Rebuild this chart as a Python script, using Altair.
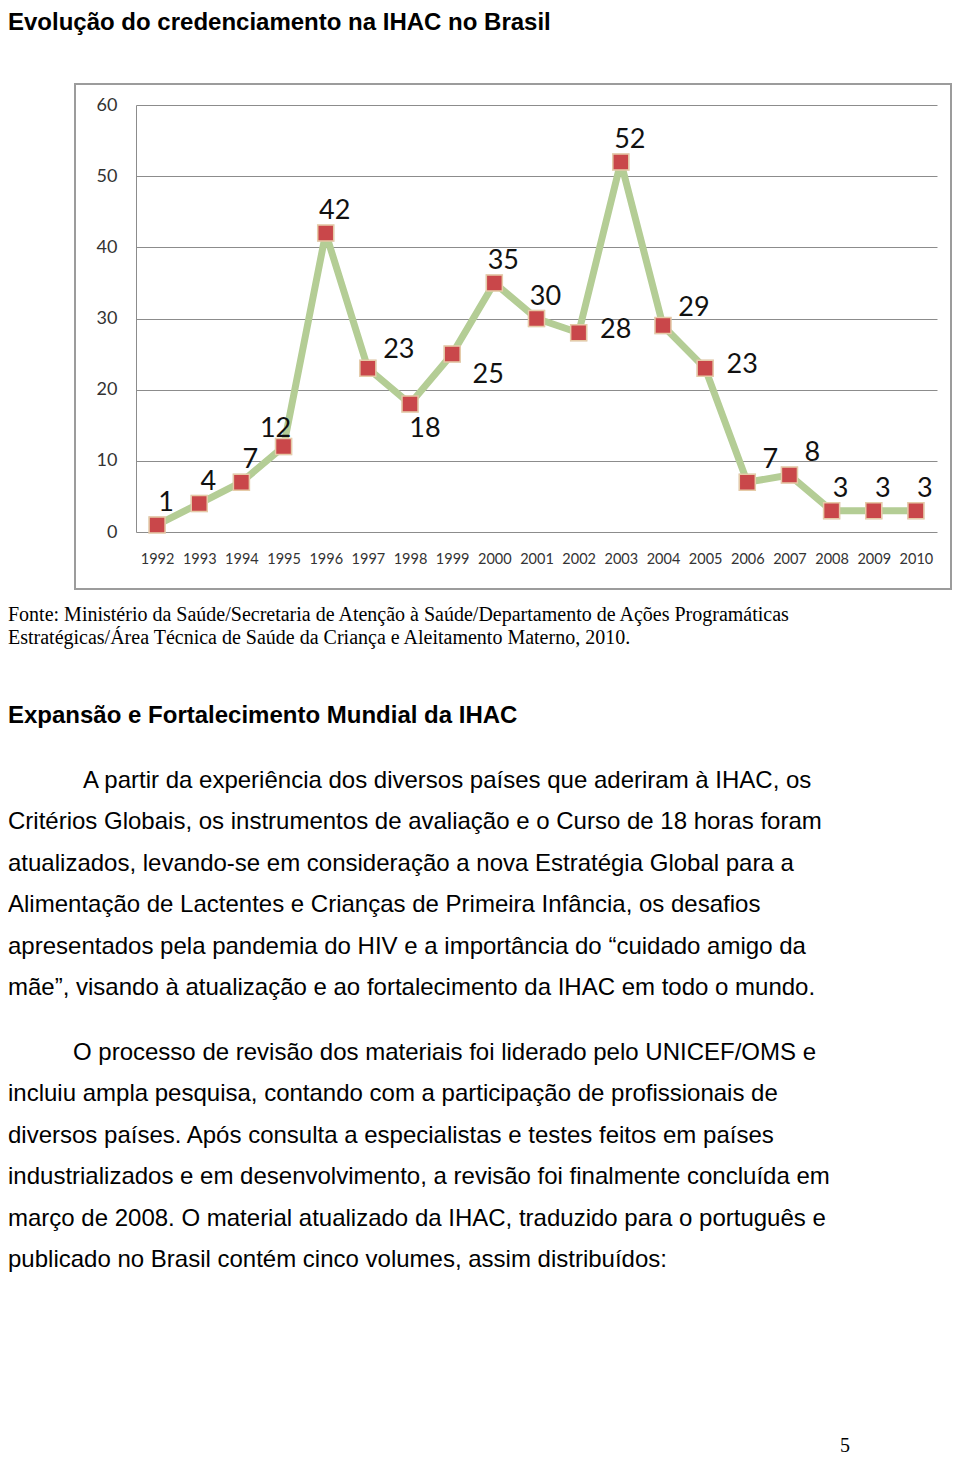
import altair as alt
import pandas as pd

# ---------------- data ----------------
years = list(range(1992, 2011))
credentials = [1, 4, 7, 12, 42, 23, 18, 25, 35, 30, 28, 52, 29, 23, 7, 8, 3, 3, 3]
label_side = ["above", "above", "above", "aboveleft", "above", "upright", "below",
              "belowright", "above", "above", "right", "above", "upright", "right",
              "aboveright", "aboveright", "above", "above", "above"]
y_ticks = [0, 10, 20, 30, 40, 50, 60]

title_text = "Evolução do credenciamento na IHAC no Brasil"
source_lines = [
    "Fonte: Ministério da Saúde/Secretaria de Atenção à Saúde/Departamento de Ações Programáticas",
    "Estratégicas/Área Técnica de Saúde da Criança e Aleitamento Materno, 2010.",
]
heading_text = "Expansão e Fortalecimento Mundial da IHAC"
para1_lines = [
    "A partir da experiência dos diversos países que aderiram à IHAC, os",
    "Critérios Globais, os instrumentos de avaliação e o Curso de 18 horas foram",
    "atualizados, levando-se em consideração a nova Estratégia Global para a",
    "Alimentação de Lactentes e Crianças de Primeira Infância, os desafios",
    "apresentados pela pandemia do HIV e a importância do “cuidado amigo da",
    "mãe”, visando à atualização e ao fortalecimento da IHAC em todo o mundo.",
]
para2_lines = [
    "O processo de revisão dos materiais foi liderado pelo UNICEF/OMS e",
    "incluiu ampla pesquisa, contando com a participação de profissionais de",
    "diversos países. Após consulta a especialistas e testes feitos em países",
    "industrializados e em desenvolvimento, a revisão foi finalmente concluída em",
    "março de 2008. O material atualizado da IHAC, traduzido para o português e",
    "publicado no Brasil contém cinco volumes, assim distribuídos:",
]
page_number = "5"

df = pd.DataFrame({"ano": years, "valor": credentials, "lado": label_side})

# ---------------- layout helpers ----------------
W, H = 801, 427
X0, Y0 = 136, 105          # page position of the plot area's top-left corner
PAD_LEFT, PAD_TOP = X0 - 8, Y0 - 8
CANVAS_W, CANVAS_H = 944, 1449


def px(page_x):
    return page_x - X0


def py(page_y):
    return page_y - Y0


LABEL_FONT = "Lato"
BODY_FONT = "Liberation Sans"
SERIF_FONT = "Liberation Serif"

x_enc = alt.X(
    "ano:Q",
    scale=alt.Scale(domain=[1991.5, 2010.5], nice=False, zero=False),
    axis=alt.Axis(values=years, format="d", title=None, grid=False, domain=False,
                  ticks=False, labelFontSize=14.5, labelPadding=20, labelColor="#333333",
                  labelFont=LABEL_FONT, labelFlush=False, labelOverlap=False),
)
y_enc = alt.Y(
    "valor:Q",
    scale=alt.Scale(domain=[0, 60], nice=False),
    axis=alt.Axis(values=y_ticks, title=None, grid=True, gridColor="#8c8c8c",
                  gridWidth=1, domain=True, domainColor="#8c8c8c", domainWidth=1,
                  ticks=False, labelFontSize=18, labelPadding=19, labelColor="#333333",
                  labelFont=LABEL_FONT),
)

base = alt.Chart(df)

line = base.mark_line(color="#b4cd95", strokeWidth=7).encode(x=x_enc, y=y_enc)
shadow = base.mark_square(size=300, color="#9a9a9a", opacity=0.35, dx=1, dy=2).encode(
    x=x_enc, y=y_enc)
points = base.mark_square(size=256, fill="#c9474a", stroke="#e6cba8", strokeWidth=1.5,
                          opacity=1).encode(x=x_enc, y=y_enc)

offsets = {
    "above": (9, -22),
    "aboveleft": (-8, -18),
    "aboveright": (23, -22),
    "upright": (31, -18),
    "right": (37, -3),
    "below": (15, 25),
    "belowright": (36, 21),
}
label_layers = []
for side, (ddx, ddy) in offsets.items():
    label_layers.append(
        base.transform_filter(alt.datum.lado == side)
        .mark_text(dx=ddx, dy=ddy, fontSize=27, font=LABEL_FONT, color="#111111",
                   baseline="middle", align="center")
        .encode(x=x_enc, y=y_enc, text="valor:Q")
    )

frame = alt.Chart(pd.DataFrame({"k": [0]})).mark_rect(
    fill="white", fillOpacity=0, stroke="#9c9c9c", strokeWidth=2
).encode(x=alt.value(px(75)), x2=alt.value(px(951)), y=alt.value(py(84)),
         y2=alt.value(py(589)))


def text_layer(text, page_x, page_y, size, font, weight="normal", line_height=None):
    kwargs = dict(align="left", baseline="alphabetic", fontSize=size, font=font,
                  fontWeight=weight, color="#000000")
    if line_height is not None:
        kwargs.update(lineBreak="\n", lineHeight=line_height)
    return alt.Chart(pd.DataFrame({"t": [text]})).mark_text(**kwargs).encode(
        x=alt.value(px(page_x)), y=alt.value(py(page_y)), text="t:N")


LH = 41.4
BODY = 24
texts = [
    text_layer(title_text, 8, 30, BODY, BODY_FONT, "bold"),
    text_layer("\n".join(source_lines), 8, 621, 20, SERIF_FONT, line_height=23),
    text_layer(heading_text, 8, 723, BODY, BODY_FONT, "bold"),
    text_layer(para1_lines[0], 83, 788, BODY, BODY_FONT),
    text_layer("\n".join(para1_lines[1:]), 8, 788 + LH, BODY, BODY_FONT, line_height=LH),
    text_layer(para2_lines[0], 73, 1060, BODY, BODY_FONT),
    text_layer("\n".join(para2_lines[1:]), 8, 1060 + LH, BODY, BODY_FONT, line_height=LH),
    alt.Chart(pd.DataFrame({"t": [page_number]})).mark_text(
        align="center", baseline="alphabetic", fontSize=20, font=SERIF_FONT, color="#000000"
    ).encode(x=alt.value(px(845)), y=alt.value(py(1452)), text="t:N"),
]

chart = alt.layer(frame, line, shadow, points, *label_layers, *texts).properties(
    width=W, height=H,
    autosize=alt.AutoSizeParams(type="none"),
    padding={"left": PAD_LEFT, "top": PAD_TOP, "right": CANVAS_W - PAD_LEFT - W,
             "bottom": CANVAS_H - PAD_TOP - H},
    background="white",
).configure_view(stroke=None)

chart.save("out.html", embed_options={"renderer": "svg", "actions": False})
